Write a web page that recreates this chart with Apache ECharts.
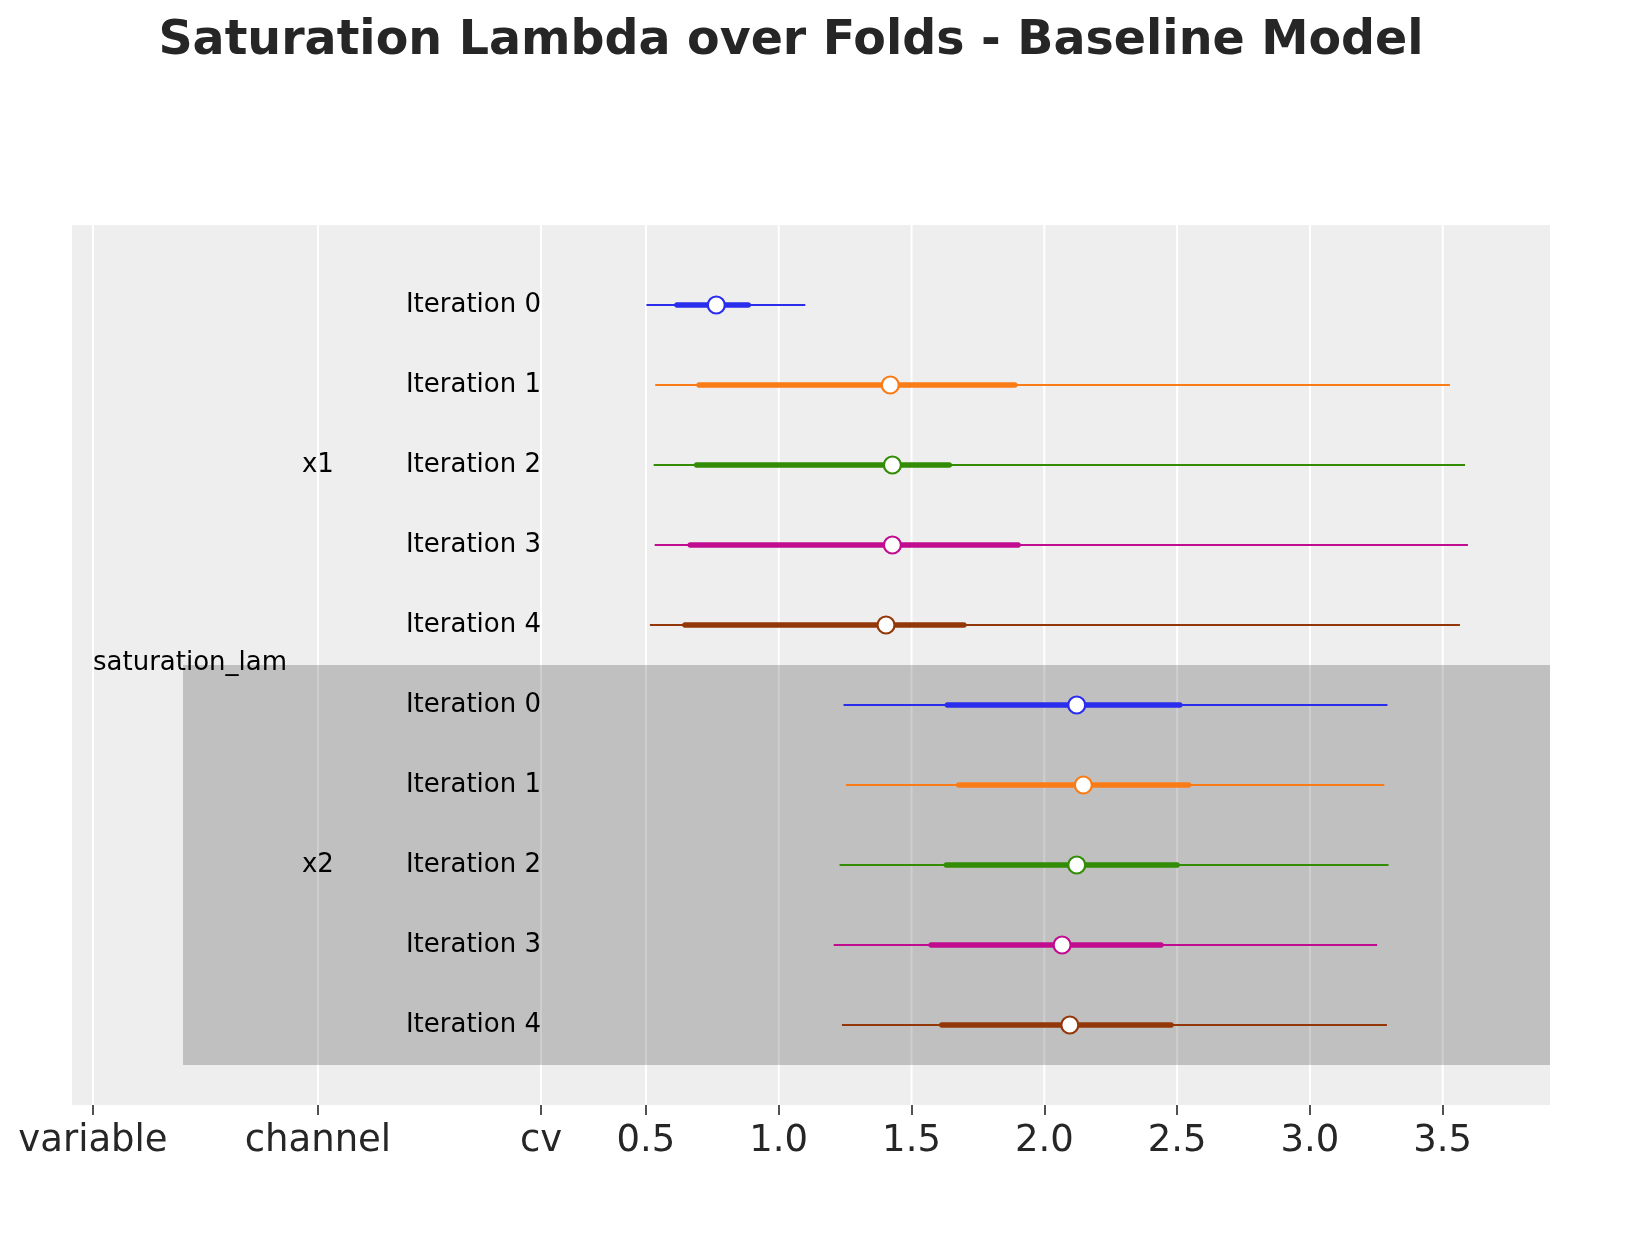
<!DOCTYPE html>
<html>
<head>
<meta charset="utf-8">
<script src="https://cdn.jsdelivr.net/npm/echarts@6/dist/echarts.min.js"></script>
<style>
  html, body { margin: 0; padding: 0; background: #fff; }
  #main { width: 1644px; height: 1236px; }
</style>
</head>
<body>
<div id="main"></div>
<script>
// forest plot data (94% HDI + 50% interval + median)
const variableName = 'saturation_lam';
const channels = ['x1', 'x2'];
const iterations = ['Iteration 0', 'Iteration 1', 'Iteration 2', 'Iteration 3', 'Iteration 4'];
const colors = ['#2a2eec', '#fa7c17', '#328c06', '#c10c90', '#933708'];

const hdiLowX1 = [0.502, 0.535, 0.529, 0.533, 0.515];
const hdiHighX1 = [1.10, 3.527, 3.584, 3.595, 3.565];
const iqrLowX1 = [0.617, 0.700, 0.691, 0.667, 0.647];
const iqrHighX1 = [0.885, 1.889, 1.642, 1.901, 1.697];
const medianX1 = [0.765, 1.420, 1.428, 1.428, 1.404];

const hdiLowX2 = [1.244, 1.253, 1.229, 1.207, 1.238];
const hdiHighX2 = [3.292, 3.280, 3.296, 3.253, 3.290];
const iqrLowX2 = [1.635, 1.678, 1.631, 1.574, 1.614];
const iqrHighX2 = [2.510, 2.543, 2.500, 2.439, 2.477];
const medianX2 = [2.122, 2.147, 2.122, 2.067, 2.096];

const valueTicks = [0.5, 1.0, 1.5, 2.0, 2.5, 3.0, 3.5];
// the label columns sit on the same x axis, left of the data
const colVariable = -1.582, colChannel = -0.735, colCv = 0.105;
const xMin = -1.661, xMax = 3.904;
const bandStart = -1.243;

const tickLabels = { };
tickLabels[colVariable] = 'variable';
tickLabels[colChannel] = 'channel';
tickLabels[colCv] = 'cv';
valueTicks.forEach(v => { tickLabels[v] = v.toFixed(1); });
const allTicks = [colVariable, colChannel, colCv].concat(valueTicks);

// rows: x1 iterations 0..4 then x2 iterations 0..4
const rows = [];
[[hdiLowX1, hdiHighX1, iqrLowX1, iqrHighX1, medianX1], [hdiLowX2, hdiHighX2, iqrLowX2, iqrHighX2, medianX2]]
	.forEach((set, c) => {
		iterations.forEach((name, i) => {
			rows.push([c * 5 + i, set[0][i], set[1][i], set[2][i], set[3][i], set[4][i], i]);
		});
	});

const chart = echarts.init(document.getElementById('main'));

const option = {
	backgroundColor: '#ffffff',
	animation: false,
	title: {
		text: 'Saturation Lambda over Folds - Baseline Model',
		left: 786,
		textAlign: 'center',
		top: 13,
		textStyle: { fontFamily: 'DejaVu Sans', fontWeight: 'bold', fontSize: 47.5, color: '#262626' }
	},
	grid: { left: 72, top: 225, width: 1478, height: 880, backgroundColor: '#eeeeee', show: true, borderWidth: 0 },
	xAxis: {
		type: 'value',
		min: xMin,
		max: xMax,
		axisLine: { show: false, onZero: false },
		splitLine: { show: false },
		axisTick: { show: true, customValues: allTicks, length: 10, lineStyle: { color: '#262626', width: 1.6 } },
		axisLabel: {
			customValues: allTicks,
			margin: 18,
			fontFamily: 'DejaVu Sans',
			fontSize: 37,
			color: '#262626',
			formatter: v => {
				for (const k of allTicks) {
					if (Math.abs(k - v) < 1e-6) return tickLabels[k];
				}
				return '';
			}
		}
	},
	yAxis: {
		type: 'value',
		min: -1,
		max: 10,
		inverse: true,
		show: false,
		splitLine: { show: false }
	},
	series: [
		{
			// vertical grid lines
			type: 'custom',
			z: 1,
			silent: true,
			data: allTicks.map(v => [v]),
			renderItem: (params, api) => {
				const a = api.coord([api.value(0), -1]);
				const b = api.coord([api.value(0), 10]);
				return { type: 'line', shape: { x1: a[0], y1: a[1], x2: b[0], y2: b[1] }, style: { stroke: '#ffffff', lineWidth: 2 } };
			}
		},
		{
			// shaded band for the second channel
			type: 'custom',
			z: 2,
			silent: true,
			data: [[bandStart, 4.5, xMax, 9.5]],
			renderItem: (params, api) => {
				const a = api.coord([api.value(0), api.value(1)]);
				const b = api.coord([api.value(2), api.value(3)]);
				return { type: 'rect', shape: { x: a[0], y: a[1], width: b[0] - a[0], height: b[1] - a[1] }, style: { fill: 'rgba(0,0,0,0.193)' } };
			}
		},
		{
			// labels
			type: 'custom',
			z: 3,
			silent: true,
			data: [[0]],
			renderItem: (params, api) => {
				const children = [];
				const font = 'DejaVu Sans';
				rows.forEach(r => {
					const p = api.coord([colCv, r[0]]);
					children.push({ type: 'text', style: { x: p[0], y: p[1], text: iterations[r[6]], align: 'right', verticalAlign: 'middle', fontFamily: font, fontSize: 26, fill: '#000' } });
				});
				channels.forEach((ch, c) => {
					const p = api.coord([colChannel, c * 5 + 2]);
					children.push({ type: 'text', style: { x: p[0], y: p[1], text: ch, align: 'center', verticalAlign: 'middle', fontFamily: font, fontSize: 26, fill: '#000' } });
				});
				const pv = api.coord([colVariable, 4.5]);
				children.push({ type: 'text', style: { x: pv[0], y: pv[1] - 2, text: variableName, align: 'left', verticalAlign: 'middle', fontFamily: font, fontSize: 26, fill: '#000' } });
				return { type: 'group', children: children };
			}
		},
		{
			// intervals and medians
			type: 'custom',
			z: 4,
			silent: true,
			data: rows,
			renderItem: (params, api) => {
				const row = api.value(0);
				const col = colors[api.value(6)];
				const h0 = api.coord([api.value(1), row]);
				const h1 = api.coord([api.value(2), row]);
				const q0 = api.coord([api.value(3), row]);
				const q1 = api.coord([api.value(4), row]);
				const m = api.coord([api.value(5), row]);
				return {
					type: 'group',
					children: [
						{ type: 'line', shape: { x1: h0[0], y1: h0[1], x2: h1[0], y2: h1[1] }, style: { stroke: col, lineWidth: 2 } },
						{ type: 'line', shape: { x1: q0[0], y1: q0[1], x2: q1[0], y2: q1[1] }, style: { stroke: col, lineWidth: 5.5, lineCap: 'round' } },
						{ type: 'circle', shape: { cx: m[0], cy: m[1], r: 8.5 }, style: { fill: '#ffffff', stroke: col, lineWidth: 2.2 } }
					]
				};
			}
		}
	]
};

chart.setOption(option);
</script>
</body>
</html>
